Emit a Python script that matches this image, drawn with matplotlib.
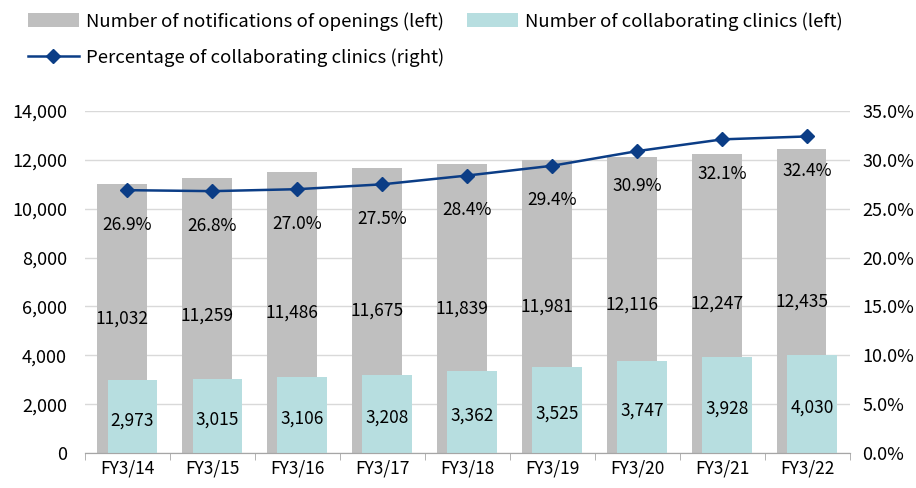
import matplotlib.pyplot as plt
import numpy as np
from matplotlib.ticker import FuncFormatter, PercentFormatter

plt.rcParams['font.family'] = ['Noto Sans CJK JP', 'DejaVu Sans']

# Data
years = ['FY3/14', 'FY3/15', 'FY3/16', 'FY3/17', 'FY3/18', 'FY3/19', 'FY3/20', 'FY3/21', 'FY3/22']
openings = [11032, 11259, 11486, 11675, 11839, 11981, 12116, 12247, 12435]
clinics = [2973, 3015, 3106, 3208, 3362, 3525, 3747, 3928, 4030]
pct = [26.9, 26.8, 27.0, 27.5, 28.4, 29.4, 30.9, 32.1, 32.4]

gray = '#BFBFBF'
teal = '#B7DEE0'
navy = '#0B3D86'

fig = plt.figure(figsize=(9.16, 4.88), dpi=100)
ax = fig.add_axes([0.0928, 0.0717, 0.835, 0.7008])
ax2 = ax.twinx()

x = np.arange(len(years))
w = 0.58
b1 = ax.bar(x - 0.065, openings, w, color=gray, zorder=2, label='Number of notifications of openings (left)')
b2 = ax.bar(x + 0.055, clinics, w, color=teal, zorder=3, label='Number of collaborating clinics (left)')

for xi, v in zip(x, openings):
    ax.text(xi - 0.065, v / 2, f'{v:,}', ha='center', va='center', fontsize=12.5, zorder=5)
for xi, v in zip(x, clinics):
    ax.text(xi + 0.055, v / 2 - 150, f'{v:,}', ha='center', va='center', fontsize=12.5, zorder=5)

ax.set_xlim(-0.5, len(years) - 0.5)
ax.set_ylim(0, 14000)
ax.set_yticks(range(0, 14001, 2000))
ax.yaxis.set_major_formatter(FuncFormatter(lambda v, p: f'{int(v):,}'))
ax.grid(axis='y', color='#D9D9D9', linewidth=1, zorder=0)
ax.set_axisbelow(True)
ax.set_xticks(x)
ax.set_xticklabels(years)
ax.set_xticks(np.arange(-0.5, len(years)), minor=True)
ax.tick_params(axis='x', which='major', length=0, pad=5, labelsize=12.5)
ax.tick_params(axis='x', which='minor', length=5, color='#A6A6A6')
ax.tick_params(axis='y', length=0, labelsize=13, pad=13)

pct_frac = [p / 100 for p in pct]
ln, = ax2.plot(x, pct_frac, color=navy, linewidth=1.8, marker='D', markersize=7, zorder=6,
               label='Percentage of collaborating clinics (right)')
for xi, p in zip(x, pct):
    ax2.annotate(f'{p:.1f}%', (xi, p / 100), xytext=(0, -25), textcoords='offset points',
                 ha='center', va='center', fontsize=12.5)
ax2.set_ylim(0, 0.35)
ax2.set_yticks(np.arange(0, 0.351, 0.05))
ax2.yaxis.set_major_formatter(PercentFormatter(1.0, decimals=1))
ax2.tick_params(axis='y', length=0, labelsize=13, pad=9)

for a in (ax, ax2):
    for s in ('top', 'left', 'right'):
        a.spines[s].set_visible(False)
    a.spines['bottom'].set_color('#A6A6A6')

fig.legend(handles=[b1, ln, b2], loc='upper left', bbox_to_anchor=(0.012, 1.01), ncol=2,
           frameon=False, fontsize=13.4, handlelength=2.75, handleheight=0.75,
           columnspacing=1.2, labelspacing=0.95, handletextpad=0.38)

plt.savefig('out.png', dpi=100)
